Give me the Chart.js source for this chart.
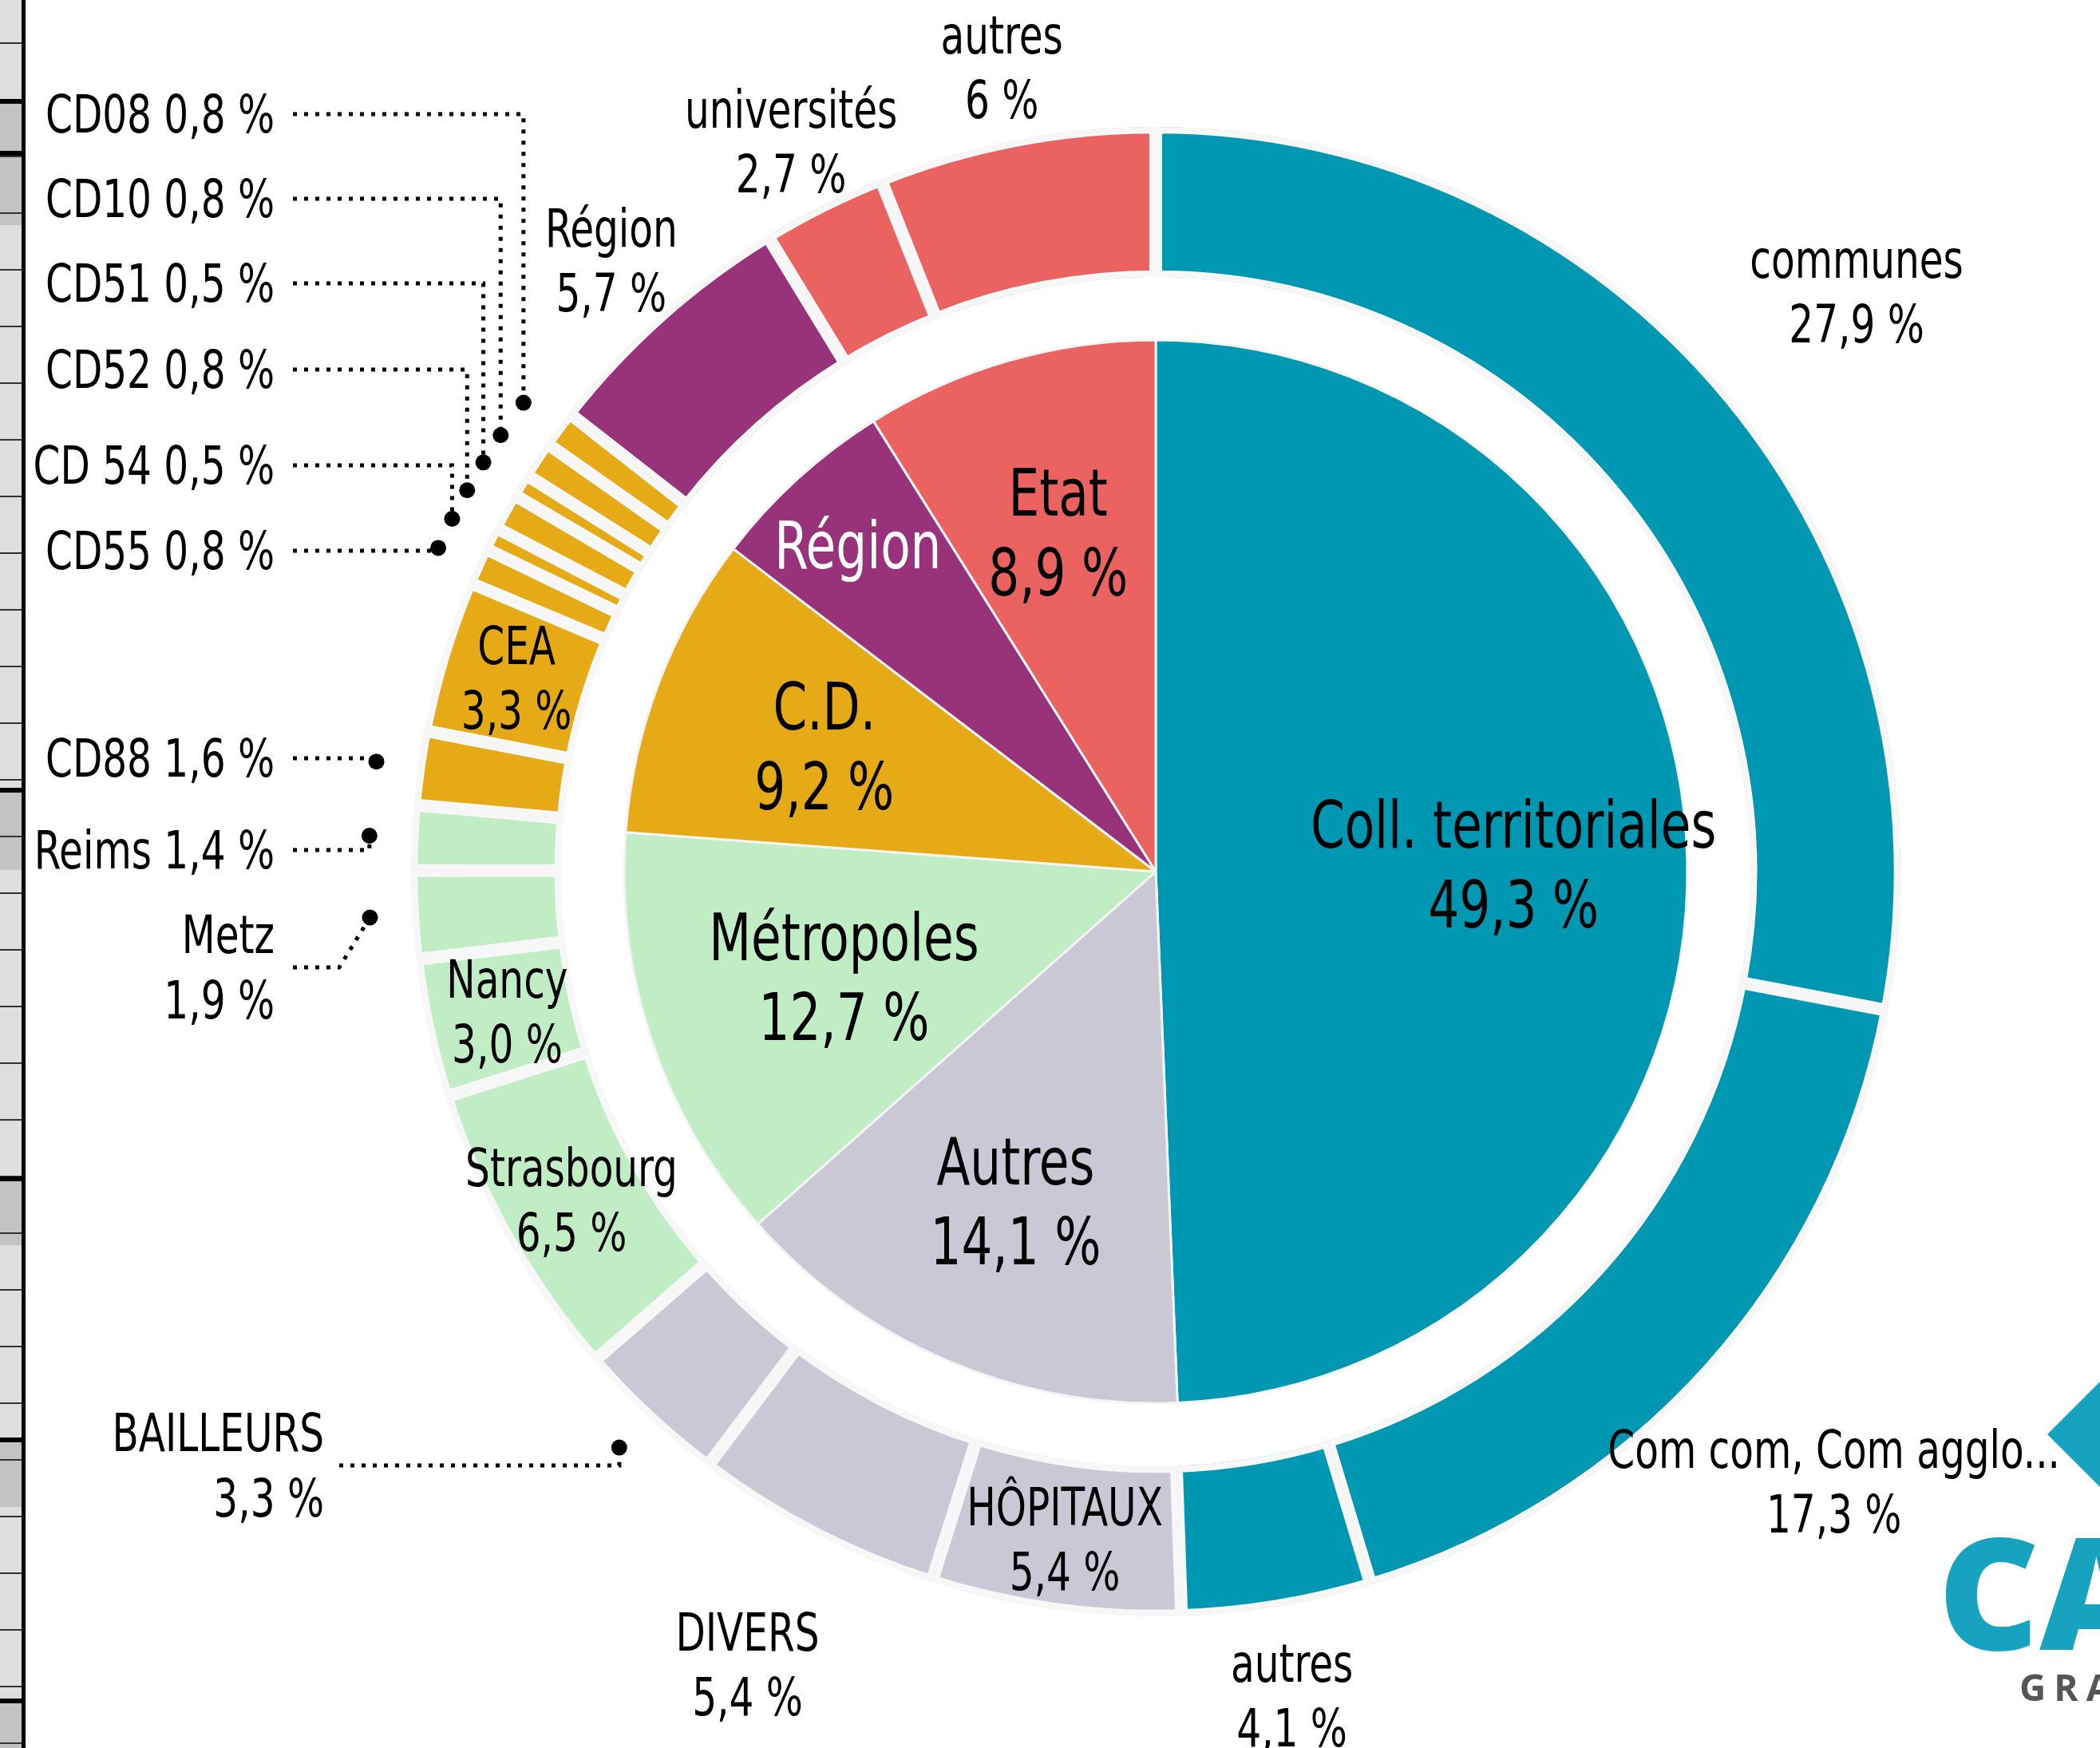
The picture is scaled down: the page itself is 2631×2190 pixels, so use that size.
<!DOCTYPE html>
<html lang="fr">
<head>
<meta charset="utf-8">
<title>Répartition des financements</title>
<script src="https://cdn.jsdelivr.net/npm/chart.js@4.4.1/dist/chart.umd.min.js"></script>
<style>
  html, body { margin: 0; padding: 0; background: #fff; }
  canvas { display: block; }
</style>
</head>
<body>
<canvas id="financeursChart" width="2631" height="2190"></canvas>
<script>
// Cercle intérieur : grandes familles de financeurs (en %)
const categoriesInterieur = ['Coll. territoriales', 'Autres', 'Métropoles', 'C.D.', 'Région', 'Etat'];
const valeursInterieur = [49.3, 14.1, 12.7, 9.2, 5.7, 8.9];
const couleursInterieur = ['#0097b2', '#cbc8d6', '#c1edc5', '#e6aa17', '#97327b', '#ea6360'];

// Couronne extérieure : détail de chaque famille (en %)
const categoriesExterieur = ['communes', 'Com com, Com agglo...', 'autres', 'HÔPITAUX', 'DIVERS', 'BAILLEURS',
  'Strasbourg', 'Nancy', 'Metz', 'Reims', 'CD88', 'CEA', 'CD55', 'CD 54', 'CD52', 'CD51', 'CD10', 'CD08',
  'Région', 'universités', 'autres'];
const valeursExterieur = [27.9, 17.3, 4.1, 5.4, 5.4, 3.3, 6.5, 3.0, 1.9, 1.4, 1.6, 3.3, 0.8, 0.5, 0.8, 0.5, 0.8, 0.8, 5.7, 2.7, 6];
// Famille (index du cercle intérieur) de chaque part extérieure
const familleExterieur = [0, 0, 0, 1, 1, 1, 2, 2, 2, 2, 3, 3, 3, 3, 3, 3, 3, 3, 4, 5, 5];

const POLICE = '"Liberation Sans Narrow", "DejaVu Sans Condensed", "Roboto Condensed", sans-serif';

// Placement des étiquettes : angle médian de la part, rayon relatif (f)
const placementInterieur = [0.673, 0.673, 0.619, 0.667, 0.832, 0.665];
const placementExterieur = [
  { i: 0, f: 1.222 },
  { i: 1, f: 1.225 },
  { i: 2, f: 1.121 },
  { i: 3, f: 0.904 },
  { i: 4, f: 1.197 },
  { i: 6, f: 0.900 },
  { i: 7, f: 0.891 },
  { i: 11, f: 0.897 },
  { i: 18, f: 1.099 },
  { i: 19, f: 1.096 },
  { i: 20, f: 1.100, d: 0 }
];
// Etiquettes renvoyées à gauche avec une ligne pointillée
const renvois = [
  { i: 17, y: 143 },
  { i: 16, y: 249 },
  { i: 15, y: 355 },
  { i: 14, y: 463 },
  { i: 13, y: 583 },
  { i: 12, y: 690 },
  { i: 10, y: 950 },
  { i: 9, y: 1065 },
  { i: 8, y: 1212, deuxLignes: true, coude: 425 },
  { i: 5, y: 1836, deuxLignes: true, x: 406, depart: 425 }
];

function pct(v, d = 1) {
  return v.toFixed(d).replace('.', ',') + ' %';
}

// La police d'origine est très étroite : on resserre le texte pour que
// "CD08 0,8 %" fasse environ 287 px de large en 65 px
let resserrement = null;
function facteurLargeur(ctx) {
  if (resserrement === null) {
    ctx.save();
    ctx.font = '65px ' + POLICE;
    resserrement = Math.min(1, 287 / ctx.measureText('CD08 0,8 %').width);
    ctx.restore();
  }
  return resserrement;
}

function texte(ctx, str, x, y, opts = {}) {
  const { taille = 65, align = 'center', sx = 1, couleur = '#000' } = opts;
  const k = facteurLargeur(ctx);
  ctx.save();
  ctx.font = taille + 'px ' + POLICE;
  ctx.fillStyle = couleur;
  ctx.textAlign = align;
  ctx.textBaseline = 'alphabetic';
  ctx.translate(x, y);
  ctx.scale(sx * k, 1);
  ctx.fillText(str, 0, 0);
  ctx.restore();
}

// Bloc de lignes centré verticalement sur cy
function bloc(ctx, lignes, cx, cy, ecart, opts = {}) {
  const cap = (opts.taille || 65) * 0.72;
  lignes.forEach((l, k) => {
    const yc = cy + (k - (lignes.length - 1) / 2) * ecart;
    texte(ctx, l, cx, yc + cap / 2, opts);
  });
}

// Point à l'angle médian d'une part, à f fois son rayon extérieur
function polaire(arc, f) {
  const a = (arc.startAngle + arc.endAngle) / 2;
  const r = arc.outerRadius * f;
  return { x: arc.x + r * Math.cos(a), y: arc.y + r * Math.sin(a) };
}

// Réglette grise à gauche et logo coupé en bas à droite
function dessinerDecor(ctx, w, h) {
  ctx.save();
  ctx.fillStyle = '#dedede';
  ctx.fillRect(0, 0, 28, h);
  ctx.fillStyle = '#c2c3c2';
  [[127, 282], [990, 1090], [1477, 1560], [1804, 1888], [2131, 2190]].forEach(([a, b]) => ctx.fillRect(0, a, 28, b - a));
  ctx.fillStyle = '#333';
  for (let y = 53; y < h; y += 71) ctx.fillRect(0, y, 28, 2);
  ctx.fillStyle = '#000';
  [127, 192, 990, 1477, 1804, 2131].forEach(y => ctx.fillRect(0, y - 3, 32, 6));
  ctx.fillRect(27, 0, 5, h);

  ctx.fillStyle = '#17a3bf';
  ctx.beginPath();
  ctx.moveTo(2565, 1797);
  ctx.lineTo(2650, 1712);
  ctx.lineTo(2735, 1797);
  ctx.lineTo(2650, 1882);
  ctx.closePath();
  ctx.fill();
  ctx.font = '800 196px "Open Sans", sans-serif';
  ctx.textAlign = 'left';
  ctx.fillText('CA', 2428, 2067);
  ctx.fillStyle = '#555';
  ctx.font = '700 46px "Open Sans", sans-serif';
  ctx.letterSpacing = '10px';
  ctx.fillText('GRA', 2530, 2131);
  ctx.restore();
}

const etiquettesPlugin = {
  id: 'etiquettes',
  beforeDraw(chart) {
    dessinerDecor(chart.ctx, chart.width, chart.height);
  },
  afterDatasetsDraw(chart) {
    const ctx = chart.ctx;
    const arcsExt = chart.getDatasetMeta(0).data;
    const arcsInt = chart.getDatasetMeta(2).data;

    // Cercle intérieur
    arcsInt.forEach((arc, i) => {
      const p = polaire(arc, placementInterieur[i]);
      if (categoriesInterieur[i] === 'Région') {
        bloc(ctx, [categoriesInterieur[i]], p.x, p.y, 100, { taille: 82, couleur: '#fff' });
      } else {
        bloc(ctx, [categoriesInterieur[i], pct(valeursInterieur[i])], p.x, p.y, 100, { taille: 82 });
      }
    });

    // Couronne : étiquettes placées près de leur part
    placementExterieur.forEach(o => {
      const p = polaire(arcsExt[o.i], o.f);
      bloc(ctx, [categoriesExterieur[o.i], pct(valeursExterieur[o.i], o.d === undefined ? 1 : o.d)],
        p.x, p.y, 81, { taille: 65, sx: o.sx || 1 });
    });

    // Couronne : étiquettes renvoyées à gauche
    renvois.forEach(o => {
      const dot = polaire(arcsExt[o.i], 1.057);
      const xTexte = o.x || 344;
      const nom = categoriesExterieur[o.i];
      const val = pct(valeursExterieur[o.i]);
      if (o.deuxLignes) {
        bloc(ctx, [nom, val], xTexte, o.y, 82, { taille: 65, align: 'right', sx: o.sx || 1 });
      } else {
        bloc(ctx, [nom + ' ' + val], xTexte, o.y, 82, { taille: 65, align: 'right' });
      }
      const x0 = o.depart || 367;
      const coude = o.coude || dot.x;
      ctx.save();
      ctx.strokeStyle = '#000';
      ctx.lineWidth = 5;
      ctx.setLineDash([5, 9]);
      ctx.beginPath();
      ctx.moveTo(x0, o.y);
      ctx.lineTo(coude, o.y);
      ctx.lineTo(dot.x, dot.y);
      ctx.stroke();
      ctx.setLineDash([]);
      ctx.fillStyle = '#000';
      ctx.beginPath();
      ctx.arc(dot.x, dot.y, 10, 0, Math.PI * 2);
      ctx.fill();
      ctx.restore();
    });
  }
};

const ctx = document.getElementById('financeursChart').getContext('2d');
const financeursChart = new Chart(ctx, {
  type: 'doughnut',
  data: {
    labels: categoriesExterieur,
    datasets: [
      {
        // couronne extérieure
        data: valeursExterieur,
        backgroundColor: familleExterieur.map(k => couleursInterieur[k]),
        borderColor: '#f7f7f7',
        borderWidth: 8,
        borderAlign: 'inner',
        weight: 188
      },
      {
        // anneau vide entre les deux cercles
        data: [1],
        backgroundColor: 'rgba(0,0,0,0)',
        borderWidth: 0,
        weight: 79
      },
      {
        // camembert intérieur
        data: valeursInterieur,
        backgroundColor: couleursInterieur,
        borderColor: '#f4f4f4',
        borderWidth: 3,
        weight: 666
      }
    ]
  },
  options: {
    responsive: false,
    animation: false,
    events: [],
    cutout: 0,
    hoverOffset: 0,
    layout: { padding: { left: 515, right: 250, top: 159, bottom: 165 } },
    plugins: {
      legend: { display: false },
      tooltip: { enabled: false }
    }
  },
  plugins: [etiquettesPlugin]
});
</script>
</body>
</html>
